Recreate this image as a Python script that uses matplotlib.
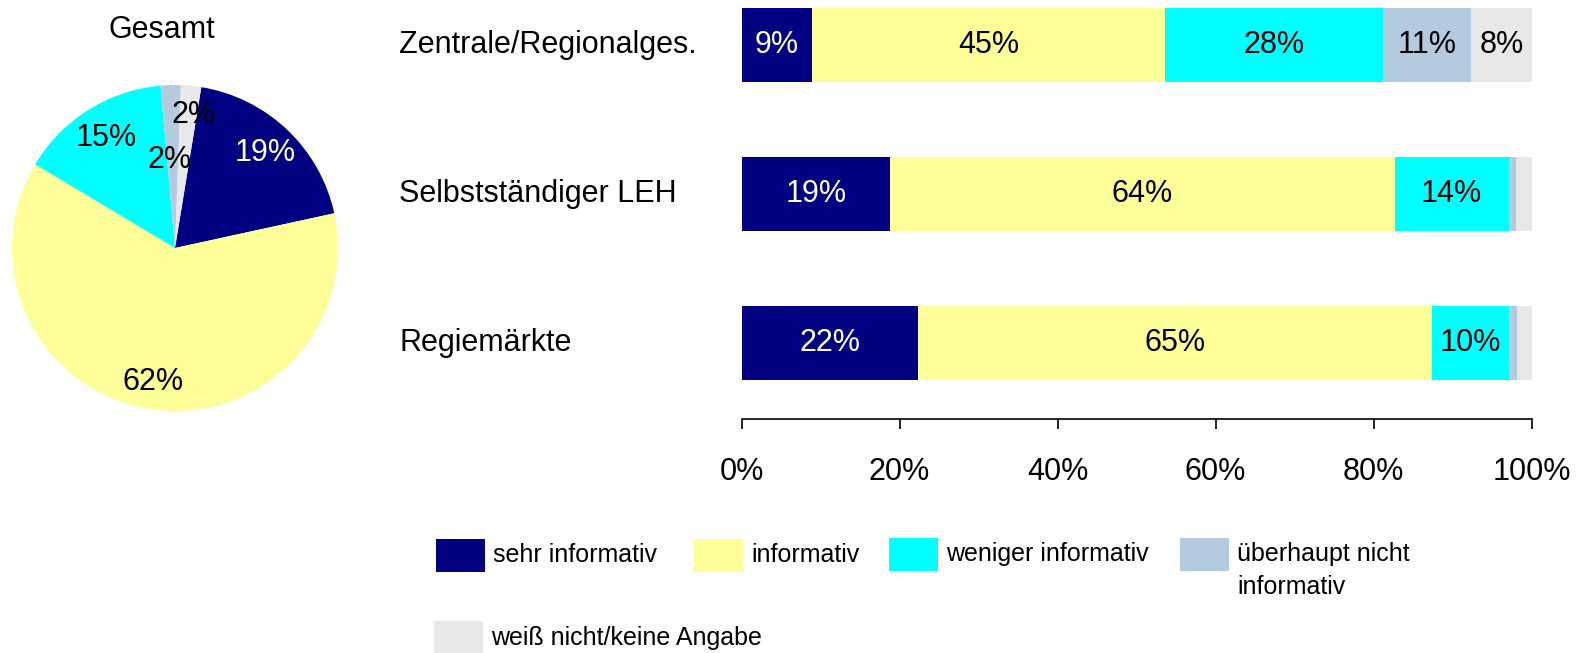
import matplotlib
matplotlib.use("Agg")
import matplotlib.pyplot as plt
from matplotlib.patches import Rectangle
from matplotlib.transforms import blended_transform_factory

# ===============================
# DATA
# ===============================
answers = ["sehr informativ", "informativ", "weniger informativ",
           "überhaupt nicht\ninformativ", "weiß nicht/keine Angabe"]
colors = ["#000080", "#FFFF99", "#00FFFF", "#B4CADF", "#E8E8E8"]
text_colors = ["white", "black", "black", "black", "black"]

pie_values = [19, 62, 15, 2, 2]

groups = ["Zentrale/Regionalges.", "Selbstständiger LEH", "Regiemärkte"]
sehr_inf = [8.9, 18.8, 22.3]
inf = [44.7, 63.9, 65.1]
weniger = [27.6, 14.4, 9.8]
gar_nicht = [11.2, 1.0, 1.0]
weiss_nicht = [7.6, 1.9, 1.8]

x_ticks = [0, 20, 40, 60, 80, 100]

# ===============================
# FIGURE
# ===============================
W, H = 1584, 653
plt.rcParams['font.family'] = ['Liberation Sans', 'DejaVu Sans']
FS = 22
fig = plt.figure(figsize=(W / 100, H / 100), dpi=100)

# ---- pie ----
ax_pie = fig.add_axes([12 / W, 1 - 411 / H, 326 / W, 326 / H])
wedges, _, autotexts = ax_pie.pie(
    pie_values, colors=colors, startangle=80.7, counterclock=False,
    autopct='%.0f%%', pctdistance=0.8,
    wedgeprops=dict(linewidth=0),
    textprops=dict(fontsize=FS))
ax_pie.set_xlim(-1, 1)
ax_pie.set_ylim(-1, 1)
for t, c in zip(autotexts, text_colors):
    t.set_color(c)
# small slices: labels pushed in / out as in the original
scale = [1, 1.04, 1, 0.7, 1.05]
for t, s in zip(autotexts, scale):
    x, y = t.get_position()
    t.set_position((x * s, y * s))
for t, dx in zip(autotexts[3:], [-0.02, 0.03]):
    x, y = t.get_position()
    t.set_position((x + dx, y - 0.02))
fig.text(162 / W, 1 - 30 / H, "Gesamt", ha='center', va='center', fontsize=FS)

# ---- stacked bars ----
ax = fig.add_axes([741.5 / W, 1 - 419 / H, 790 / W, 419 / H])
series = [sehr_inf, inf, weniger, gar_nicht, weiss_nicht]
ypos = list(range(len(groups)))
left = [0.0] * len(groups)
for vals, col, tcol in zip(series, colors, text_colors):
    bars = ax.barh(ypos, vals, left=left, height=0.5, color=col, linewidth=0)
    for b, v in zip(bars, vals):
        if v >= 5:
            ax.text(b.get_x() + b.get_width() / 2, b.get_y() + b.get_height() / 2,
                    f"{v:.0f}%", ha='center', va='center', color=tcol, fontsize=FS)
    left = [l + v for l, v in zip(left, vals)]

ax.set_xlim(0, 100)
ax.set_ylim(2.51, -0.302)
ax.set_yticks([])
ax.set_xticks(x_ticks)
ax.set_xticklabels([f"{t}%" for t in x_ticks], fontsize=FS)
ax.tick_params(axis='x', length=7.2, width=1.2, pad=20)
for s in ['top', 'right', 'left']:
    ax.spines[s].set_visible(False)
ax.spines['bottom'].set_linewidth(1.2)

trans = blended_transform_factory(fig.transFigure, ax.transData)
for i, g in enumerate(groups):
    ax.text(399 / W, i, g, transform=trans, ha='left', va='center', fontsize=FS)

# ---- legend (drawn by hand, first row top-aligned) ----
LFS = 18
leg_x = [436, 694, 889, 1180, 434]
leg_y = [539, 539, 538, 538, 621]
for lab, col, lx, ly in zip(answers, colors, leg_x, leg_y):
    fig.add_artist(Rectangle((lx / W, 1 - (ly + 33) / H), 49 / W, 33 / H,
                             transform=fig.transFigure, color=col, linewidth=0))
    fig.text((lx + 57) / W, 1 - (ly + 16.5) / H, lab.split("\n")[0],
             ha='left', va='center', fontsize=LFS)
    if "\n" in lab:
        fig.text((lx + 57) / W, 1 - (ly + 49.5) / H, lab.split("\n")[1],
                 ha='left', va='center', fontsize=LFS)

fig.savefig("out.png", dpi=100)
